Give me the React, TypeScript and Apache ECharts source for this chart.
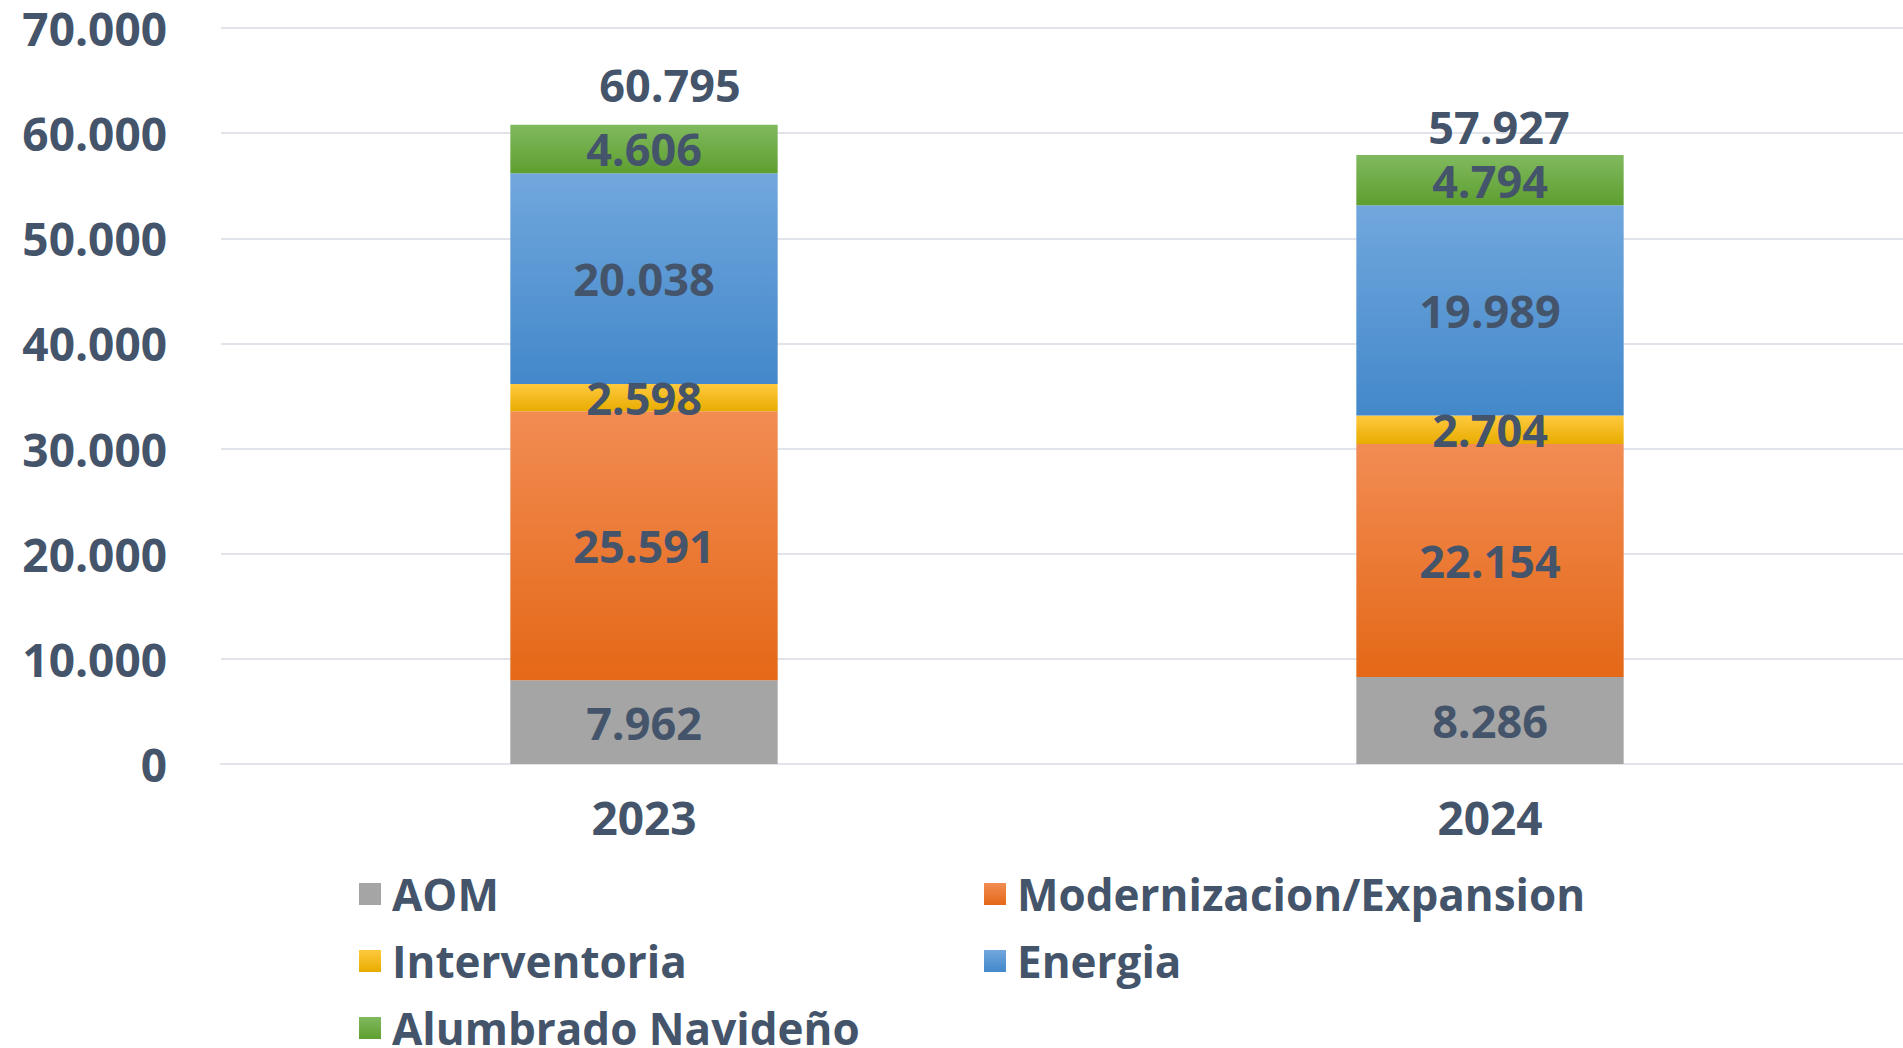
import React, { useEffect, useRef } from "react";
import * as echarts from "echarts";

const categories = ["2023", "2024"];
const seriesNames = ["AOM", "Modernizacion/Expansion", "Interventoria", "Energia", "Alumbrado Navideño"];
const aom = [7962, 8286];
const modernizacion = [25591, 22154];
const interventoria = [2598, 2704];
const energia = [20038, 19989];
const alumbrado = [4606, 4794];
const yTicks = [0, 10000, 20000, 30000, 40000, 50000, 60000, 70000];

const TEXT = "#44546A";
const FONT = "'Open Sans', 'Noto Sans', sans-serif";

const grad = (top: string, bottom: string) =>
  new echarts.graphic.LinearGradient(0, 0, 0, 1, [
    { offset: 0, color: top },
    { offset: 1, color: bottom },
  ]);

const fmt = (v: number) => v.toLocaleString("de-DE");

export default function App() {
  const ref = useRef<HTMLDivElement>(null);
  useEffect(() => {
    if (!ref.current) return;
    const chart = echarts.init(ref.current, undefined, { renderer: "svg" });
    const values = [aom, modernizacion, interventoria, energia, alumbrado];
    const colors = [
      "#A5A5A5",
      grad("#F28C53", "#E46817"),
      grad("#FFC93F", "#E8AC00"),
      grad("#71A7DD", "#4388CA"),
      grad("#80B95F", "#5E9F2F"),
    ];
    const totals = categories.map((_, i) => values.reduce((s, arr) => s + arr[i], 0));
    const totalOffsets = [
      [26, -40],
      [9, -28],
    ];
    const labelStyle = {
      show: true,
      position: "inside",
      color: TEXT,
      opacity: 1,
      fontFamily: FONT,
      fontWeight: 700,
      fontSize: 45,
      lineHeight: 40,
      formatter: (p: any) => fmt(p.value),
    };
    const series: any[] = seriesNames.map((name, k) => ({
      name,
      type: "bar",
      stack: "total",
      barWidth: "31.6%",
      data: values[k],
      itemStyle: { color: colors[k] },
      label: labelStyle,
      emphasis: { disabled: true },
    }));
    series.push({
      name: "Total",
      type: "scatter",
      symbolSize: 0,
      itemStyle: { opacity: 1 },
      data: totals.map((t, i) => ({
        value: t,
        label: { offset: totalOffsets[i] },
      })),
      label: { ...labelStyle, position: "inside" },
      silent: true,
      z: 10,
    });
    const legendText = {
      color: TEXT,
      fontFamily: FONT,
      fontWeight: 700,
      fontSize: 44,
      lineHeight: 46,
      padding: [0, 0, 0, 6],
    };
    const legendPos = [
      [359, 871],
      [984, 871],
      [359, 938],
      [984, 938],
      [359, 1005],
    ];
    chart.setOption({
      animation: false,
      backgroundColor: "#ffffff",
      grid: { left: 221, right: 0, top: 28, bottom: 284, containLabel: false },
      xAxis: {
        type: "category",
        data: categories,
        axisLine: { show: true, lineStyle: { color: "#E1E5EB", width: 2 } },
        axisTick: { show: false },
        axisLabel: {
          color: TEXT,
          fontFamily: FONT,
          fontWeight: 700,
          fontSize: 46,
          lineHeight: 46,
          margin: 30,
        },
      },
      yAxis: {
        type: "value",
        min: yTicks[0],
        max: yTicks[yTicks.length - 1],
        interval: yTicks[1] - yTicks[0],
        axisLine: { show: false },
        axisTick: { show: false },
        splitLine: { lineStyle: { color: "#E1E5EB", width: 2 } },
        axisLabel: {
          color: TEXT,
          fontFamily: FONT,
          fontWeight: 700,
          fontSize: 46,
          lineHeight: 40,
          margin: 54,
          formatter: (v: number) => fmt(v),
        },
      },
      legend: seriesNames.map((name, k) => ({
        left: legendPos[k][0],
        top: legendPos[k][1],
        padding: 0,
        icon: "rect",
        itemWidth: 22,
        itemHeight: 22,
        data: [name],
        textStyle: legendText,
        selectedMode: false,
      })),
      series,
    });
    return () => chart.dispose();
  }, []);
  return (
    <div
      style={{
        position: "absolute",
        left: 0,
        top: 0,
        width: 1903,
        height: 1048,
        overflow: "hidden",
        background: "#ffffff",
      }}
    >
      <div ref={ref} style={{ width: 1913, height: 1048 }} />
    </div>
  );
}
